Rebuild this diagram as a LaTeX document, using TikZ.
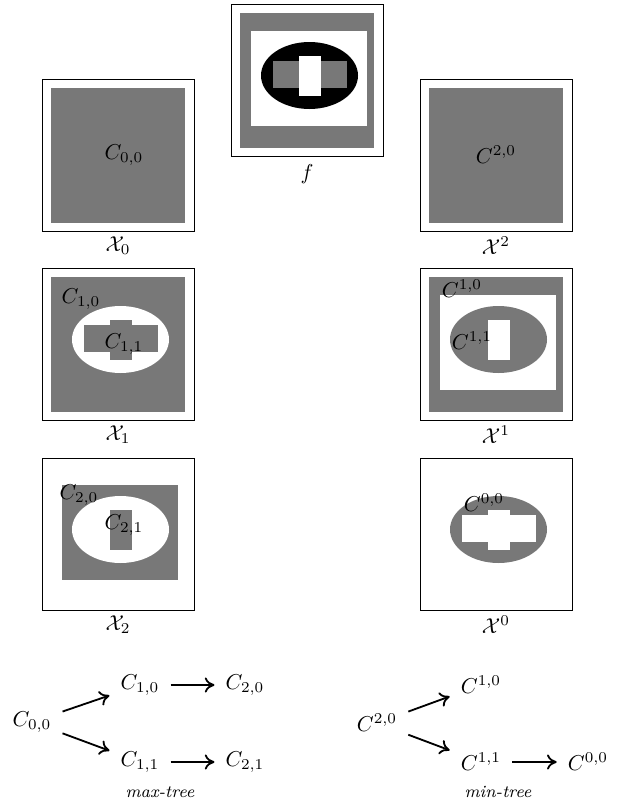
\documentclass[tikz,border=0pt]{standalone}
\usepackage{tikz}
\usetikzlibrary{arrows.meta, positioning}
\definecolor{midgray}{RGB}{120,120,120}

\begin{document}
\begin{tikzpicture}[x=0.465pt, y=-0.465pt,
    frame/.style={draw=black, line width=0.45pt},
    gray/.style={fill=midgray},
    white/.style={fill=white},
    lbl/.style={inner sep=1pt},
    tnode/.style={inner sep=5pt},
    tarrow/.style={line width=0.85pt, -{To[length=4.5pt, width=7pt]}}]
  \useasboundingbox (0,0) rectangle (623,804);

  % f
  \begin{scope}[shift={(240,13)}]
    \draw[frame] (-8.5,-8.5) rectangle (143,143.5);
    \fill[gray] (0,0) rectangle (134,135);
    \fill[white] (11,18) rectangle (127,113);
    \fill[black] (69.5,62.5) ellipse [x radius=48.5, y radius=33.5];
    \fill[gray] (33,48) rectangle (107,75);
    \fill[white] (59,43) rectangle (81,83);
    \node[lbl] (f) at (67,161) {$f$};
  \end{scope}

  % upper level sets
  \begin{scope}[shift={(51,88)}]
    \draw[frame] (-8.5,-8.5) rectangle (143,143.5);
    \fill[gray] (0,0) rectangle (134,135);
    \node[lbl] (c00) at (73,67) {$C_{0,0}$};
    \node[lbl] (x0) at (67,158) {$\mathcal{X}_0$};
  \end{scope}
  \begin{scope}[shift={(51,277)}]
    \draw[frame] (-8.5,-8.5) rectangle (143,143.5);
    \fill[gray] (0,0) rectangle (134,135);
    \fill[white] (69.5,62.5) ellipse [x radius=48.5, y radius=33.5];
    \fill[gray] (33,48) rectangle (107,75);
    \fill[gray] (59,43) rectangle (81,83);
    \node[lbl] (c10) at (30,22) {$C_{1,0}$};
    \node[lbl] (c11) at (73,67) {$C_{1,1}$};
    \node[lbl] (x1) at (67,158) {$\mathcal{X}_1$};
  \end{scope}
  \begin{scope}[shift={(51,467)}]
    \draw[frame] (-8.5,-8.5) rectangle (143,143.5);
    \fill[gray] (11,18) rectangle (127,113);
    \fill[white] (69.5,62.5) ellipse [x radius=48.5, y radius=33.5];
    \fill[gray] (59,43) rectangle (81,83);
    \node[lbl] (c20) at (28,28) {$C_{2,0}$};
    \node[lbl] (c21) at (73,58) {$C_{2,1}$};
    \node[lbl] (x2) at (67,158) {$\mathcal{X}_2$};
  \end{scope}

  % lower level sets
  \begin{scope}[shift={(429,88)}]
    \draw[frame] (-8.5,-8.5) rectangle (143,143.5);
    \fill[gray] (0,0) rectangle (134,135);
    \node[lbl] (d20) at (67,67) {$C^{2,0}$};
    \node[lbl] (y2) at (67,158) {$\mathcal{X}^2$};
  \end{scope}
  \begin{scope}[shift={(429,277)}]
    \draw[frame] (-8.5,-8.5) rectangle (143,143.5);
    \fill[gray] (0,0) rectangle (134,135);
    \fill[white] (11,18) rectangle (127,113);
    \fill[gray] (69.5,62.5) ellipse [x radius=48.5, y radius=33.5];
    \fill[white] (59,43) rectangle (81,83);
    \node[lbl] (d10) at (33,12) {$C^{1,0}$};
    \node[lbl] (d11) at (43,64) {$C^{1,1}$};
    \node[lbl] (y1) at (67,158) {$\mathcal{X}^1$};
  \end{scope}
  \begin{scope}[shift={(429,467)}]
    \draw[frame] (-8.5,-8.5) rectangle (143,143.5);
    \fill[gray] (69.5,62.5) ellipse [x radius=48.5, y radius=33.5];
    \fill[white] (33,48) rectangle (107,75);
    \fill[white] (59,43) rectangle (81,83);
    \node[lbl] (d00) at (55,36) {$C^{0,0}$};
    \node[lbl] (y0) at (67,158) {$\mathcal{X}^0$};
  \end{scope}

  % max-tree
  \node[tnode] (m00) at (32,722) {$C_{0,0}$};
  \node[tnode] (m10) at (140,685) {$C_{1,0}$};
  \node[tnode] (m11) at (140,762) {$C_{1,1}$};
  \node[tnode] (m20) at (245,685) {$C_{2,0}$};
  \node[tnode] (m21) at (245,762) {$C_{2,1}$};
  \node (maxt) at (160,792) {\footnotesize\textit{max-tree}};
  \draw[tarrow] (m00) -- (m10);
  \draw[tarrow] (m00) -- (m11);
  \draw[tarrow] (m10) -- (m20);
  \draw[tarrow] (m11) -- (m21);

  % min-tree
  \node[tnode] (n20) at (377,723) {$C^{2,0}$};
  \node[tnode] (n10) at (481,685) {$C^{1,0}$};
  \node[tnode] (n11) at (481,762) {$C^{1,1}$};
  \node[tnode] (n00) at (588,762) {$C^{0,0}$};
  \node (mint) at (498,792) {\footnotesize\textit{min-tree}};
  \draw[tarrow] (n20) -- (n10);
  \draw[tarrow] (n20) -- (n11);
  \draw[tarrow] (n11) -- (n00);
\end{tikzpicture}
\end{document}
